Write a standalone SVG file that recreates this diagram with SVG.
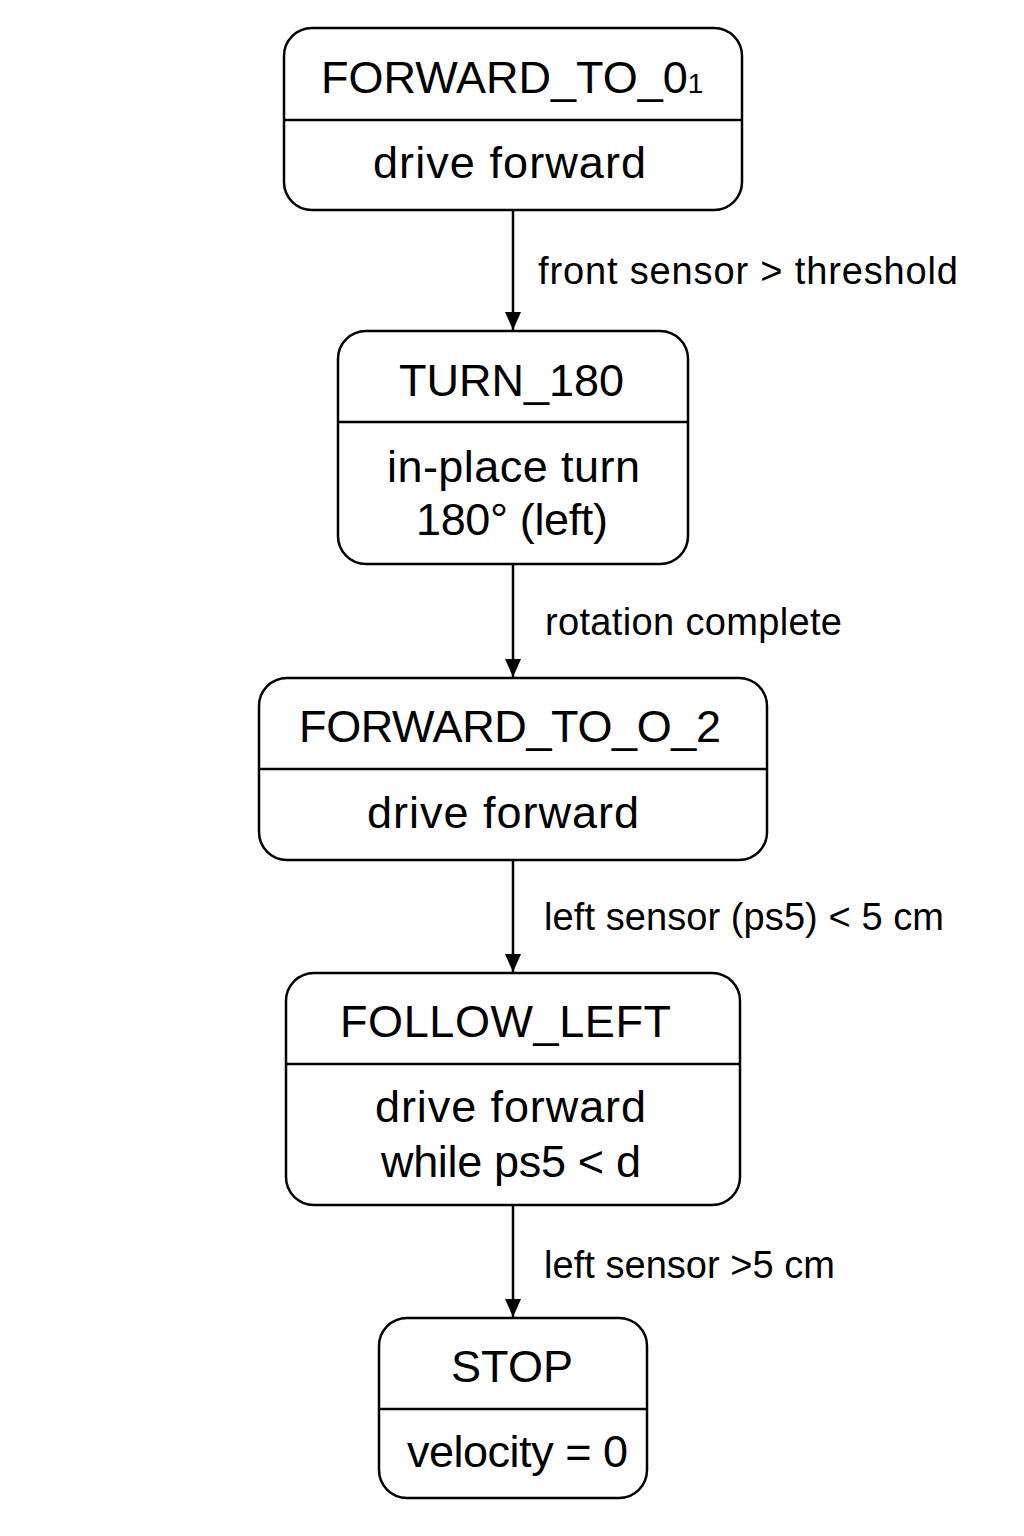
<svg xmlns="http://www.w3.org/2000/svg" width="1024" height="1536" viewBox="0 0 1024 1536">
<defs>
<style>
.box{fill:#fff;stroke:#000;stroke-width:2.5}
.div{stroke:#000;stroke-width:2.5}
.t{font-family:"Liberation Sans",Arial,Helvetica,sans-serif;font-size:45px;fill:#000}
.lbl{font-family:"Liberation Sans",Arial,Helvetica,sans-serif;font-size:38px;fill:#000}
.edge{stroke:#000;stroke-width:2.5;fill:none;marker-end:url(#ah)}
</style>
<marker id="ah" viewBox="0 0 18 16" refX="18" refY="8" markerWidth="18" markerHeight="16" markerUnits="userSpaceOnUse" orient="auto">
<path d="M0,0 L18,8 L0,16 Z" fill="#000"/>
</marker>
</defs>
<rect width="1024" height="1536" fill="#fff"/>
<g id="connectors">
<line class="edge" x1="513" y1="210" x2="513" y2="330"/>
<line class="edge" x1="513" y1="564" x2="513" y2="677"/>
<line class="edge" x1="513" y1="860" x2="513" y2="972"/>
<line class="edge" x1="513" y1="1205" x2="513" y2="1317"/>
<text class="lbl" x="538" y="284" textLength="420" lengthAdjust="spacing">front sensor &gt; threshold</text>
<text class="lbl" x="545" y="635" textLength="297" lengthAdjust="spacing">rotation complete</text>
<text class="lbl" x="544" y="930" textLength="400" lengthAdjust="spacing">left sensor (ps5) &lt; 5 cm</text>
<text class="lbl" x="544" y="1278" textLength="291" lengthAdjust="spacing">left sensor &gt;5 cm</text>
</g>
<g id="forward_to_01">
<rect class="box" x="284" y="28" width="458" height="182" rx="28"/>
<line class="div" x1="284" y1="120" x2="742" y2="120"/>
<text class="t" x="321" y="93">FORWARD_TO_0<tspan font-size="28">1</tspan></text>
<text class="t" x="373" y="178" textLength="273" lengthAdjust="spacing">drive forward</text>
</g>
<g id="turn_180">
<rect class="box" x="338" y="331" width="350" height="233" rx="28"/>
<line class="div" x1="338" y1="422" x2="688" y2="422"/>
<text class="t" x="399" y="396" textLength="225" lengthAdjust="spacing">TURN_180</text>
<text class="t" x="387" y="482" textLength="253" lengthAdjust="spacing">in-place turn</text>
<text class="t" x="416" y="535" textLength="192" lengthAdjust="spacing">180° (left)</text>
</g>
<g id="forward_to_o_2">
<rect class="box" x="259" y="678" width="508" height="182" rx="28"/>
<line class="div" x1="259" y1="769" x2="767" y2="769"/>
<text class="t" x="299" y="742" textLength="422" lengthAdjust="spacing">FORWARD_TO_O_2</text>
<text class="t" x="367" y="828" textLength="272" lengthAdjust="spacing">drive forward</text>
</g>
<g id="follow_left">
<rect class="box" x="286" y="973" width="454" height="232" rx="28"/>
<line class="div" x1="286" y1="1064" x2="740" y2="1064"/>
<text class="t" x="340" y="1037" textLength="331" lengthAdjust="spacing">FOLLOW_LEFT</text>
<text class="t" x="375" y="1122" textLength="271" lengthAdjust="spacing">drive forward</text>
<text class="t" x="381" y="1177" textLength="260" lengthAdjust="spacing">while ps5 &lt; d</text>
</g>
<g id="stop">
<rect class="box" x="379" y="1318" width="268" height="180" rx="28"/>
<line class="div" x1="379" y1="1409" x2="647" y2="1409"/>
<text class="t" x="451" y="1382" textLength="122" lengthAdjust="spacing">STOP</text>
<text class="t" x="407" y="1467" textLength="221" lengthAdjust="spacing">velocity = 0</text>
</g>
</svg>
